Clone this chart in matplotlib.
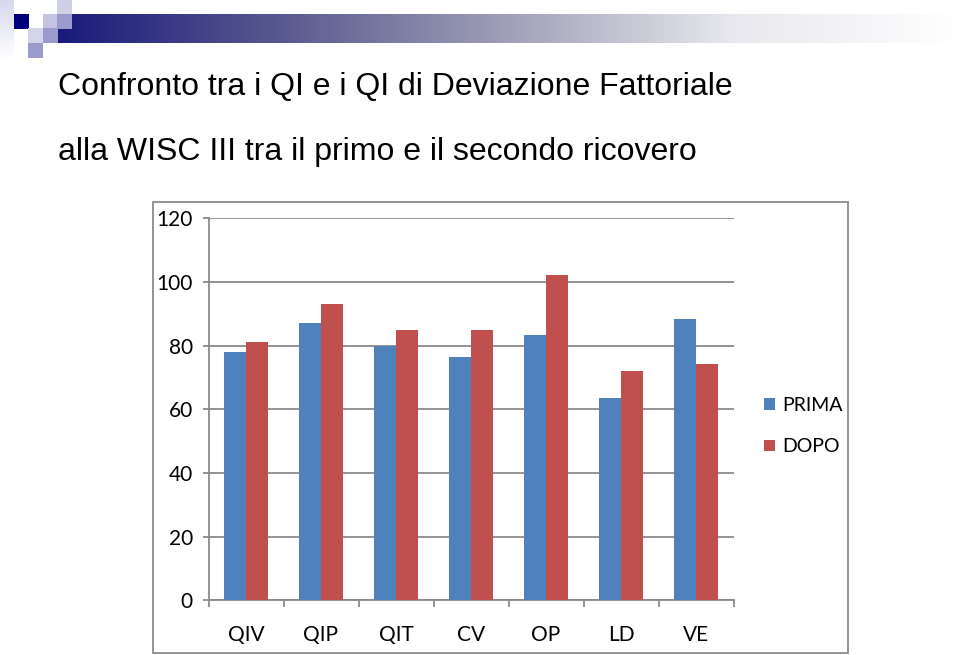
import matplotlib.pyplot as plt
import numpy as np
from matplotlib.patches import Rectangle
from matplotlib.colors import LinearSegmentedColormap

W, H = 959, 655

categories = ["QIV", "QIP", "QIT", "CV", "OP", "LD", "VE"]
prima = [78, 87, 80, 76.3, 83.4, 63.4, 88.3]
dopo = [81.2, 93.2, 85, 85, 102.3, 72, 74.3]
yticks = [0, 20, 40, 60, 80, 100, 120]

title_1 = "Confronto tra i QI e i QI di Deviazione Fattoriale"
title_2 = "alla WISC III tra il primo e il secondo ricovero"

blue = "#4F81BD"
red = "#C0504D"
grid_col = "#8A8A8A"


def px_rect(x, y, w, h, **kw):
    # rectangle given in pixel coords from the top-left corner
    return Rectangle((x / W, 1 - (y + h) / H), w / W, h / H,
                     transform=fig.transFigure, **kw)


fig = plt.figure(figsize=(W / 100, H / 100), dpi=100)

# header gradient bar
bar_ax = fig.add_axes([58 / W, 1 - 43 / H, (W - 58) / W, 29 / H])
cmap = LinearSegmentedColormap.from_list(
    "hdr", ["#1a1a7c", "#5a5a90", "#a0a0b8", "#e8e8ee", "#ffffff"])
bar_ax.imshow(np.linspace(0, 1, 400)[None, :], aspect="auto", cmap=cmap)
bar_ax.axis("off")

# faint vertical fade at the left edge
edge_ax = fig.add_axes([0, 1 - 60 / H, 14 / W, 60 / H])
edge_cmap = LinearSegmentedColormap.from_list("edge", ["#d8d8ec", "#ffffff"])
edge_ax.imshow(np.linspace(0, 1, 100)[:, None], aspect="auto", cmap=edge_cmap)
edge_ax.axis("off")

# decorative squares
squares = [
    (14, 14, "#00007f"),
    (57, 0, "#cfcfe6"),
    (43, 14, "#c4c4e2"),
    (57, 14, "#9a9acc"),
    (28, 28, "#d4d4ea"),
    (43, 28, "#9a9acc"),
    (28, 43, "#9a9acc"),
]
for sx, sy, col in squares:
    fig.add_artist(px_rect(sx, sy, 14.5, 14.5, facecolor=col, edgecolor="none"))

# slide titles
fig.text(58 / W, 1 - 95 / H, title_1, fontsize=23, family="Liberation Sans",
         va="baseline", ha="left")
fig.text(58 / W, 1 - 160 / H, title_2, fontsize=23, family="Liberation Sans",
         va="baseline", ha="left")

# chart border
fig.add_artist(px_rect(153, 202, 695, 451, facecolor="none",
                       edgecolor=grid_col, linewidth=1.3))

ax = fig.add_axes([208.5 / W, 54.7 / H, 525 / W, 382 / H])
x = np.arange(len(categories))
width = 0.29
b1 = ax.bar(x - width / 2, prima, width, color=blue, label="PRIMA", zorder=3)
b2 = ax.bar(x + width / 2, dopo, width, color=red, label="DOPO", zorder=3)

ax.set_xlim(-0.5, len(categories) - 0.5)
ax.set_ylim(0, 120)
ax.set_yticks(yticks)
ax.grid(axis="y", color=grid_col, linewidth=1.3, zorder=0)
ax.set_axisbelow(True)
for side in ["top", "right"]:
    ax.spines[side].set_visible(False)
for side in ["left", "bottom"]:
    ax.spines[side].set_color(grid_col)
    ax.spines[side].set_linewidth(1.3)

ax.set_xticks(x)
ax.set_xticklabels(categories)
ax.set_xticks(np.arange(len(categories) + 1) - 0.5, minor=True)
ax.tick_params(axis="x", which="major", length=0, pad=18, labelsize=15)
ax.tick_params(axis="x", which="minor", length=5, width=1.3, color=grid_col)
ax.tick_params(axis="y", length=4.3, width=1.3, color=grid_col, pad=7,
               labelsize=15)
for lab in ax.get_xticklabels() + ax.get_yticklabels():
    lab.set_family("Lato")

fig.legend(handles=[b1, b2], loc="upper left",
           bbox_to_anchor=(764 / W, 1 - 397 / H), frameon=False,
           prop={"family": "Lato", "size": 14}, handlelength=0.55,
           handleheight=0.55, handletextpad=0.4, labelspacing=1.25,
           borderpad=0, borderaxespad=0)

fig.savefig("out.png", dpi=100)
